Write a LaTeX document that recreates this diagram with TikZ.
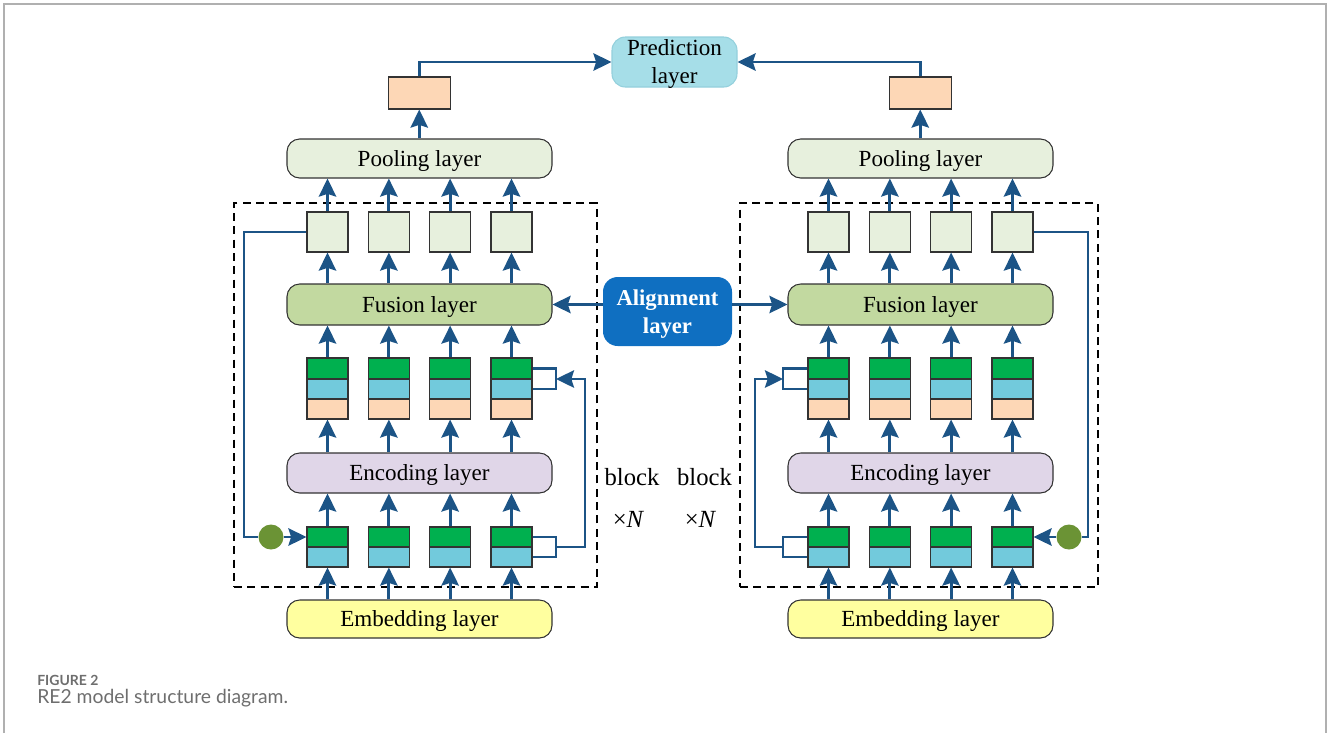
\documentclass[tikz,border=0pt]{standalone}
\usepackage{fontspec}
\setmainfont{Liberation Serif}
\newfontfamily\capfont{Lato}
\usetikzlibrary{arrows.meta,calc}
\definecolor{arrc}{HTML}{1C5486}
\definecolor{poolc}{HTML}{E7F0DD}
\definecolor{fusc}{HTML}{C2D9A0}
\definecolor{encc}{HTML}{E0D6E8}
\definecolor{embc}{HTML}{FFFF9F}
\definecolor{grnc}{HTML}{00B04F}
\definecolor{cync}{HTML}{72CADC}
\definecolor{pchc}{HTML}{FDD7B6}
\definecolor{predc}{HTML}{A6DEE8}
\definecolor{predb}{HTML}{94D0DC}
\definecolor{alic}{HTML}{0F6FC1}
\definecolor{circc}{HTML}{6B9335}
\definecolor{capc}{HTML}{6E6E6E}
\definecolor{framec}{HTML}{B0B0B0}
\definecolor{bordc}{HTML}{333333}
\tikzset{
  lab/.style={font=\fontsize{17.3}{21}\selectfont},
  layerbox/.style={draw=bordc, line width=0.8pt, rounded corners=9.5pt, minimum width=198.75pt, inner sep=0pt, text height=11.4pt, text depth=0pt, lab},
  cell/.style={draw=bordc, line width=0.8pt, minimum width=30.75pt, inner sep=0pt},
  arr/.style={draw=arrc, line width=2.2pt, -{Stealth[length=13.5pt,width=13pt,inset=2pt]}},
  conn/.style={draw=arrc, line width=2.2pt},
  dbox/.style={draw=black, line width=1.4pt, dash pattern=on 6pt off 4pt, inner sep=0pt},
  blk/.style={font=\fontsize{18.5}{22}\selectfont, inner sep=0pt},
}
\begin{document}
\begin{tikzpicture}[x=0.75pt,y=-0.75pt]
\useasboundingbox (0,0) rectangle (1328,733);
% page frame
\draw[framec, line width=1.5pt] (4,733) -- (4,4) -- (1326,4) -- (1326,733);

% dashed block boxes
\node[dbox, minimum width=272.25pt, minimum height=288pt] (dboxL) at (415.5,395) {};
\node[dbox, minimum width=268.5pt, minimum height=288pt] (dboxR) at (919,395) {};

% top prediction & alignment
\node[draw=predb, line width=0.8pt, fill=predc, rounded corners=10pt, minimum width=93.75pt, minimum height=37.5pt, inner sep=0pt,
  label={[yshift=-1.6pt, align=center, lab, inner sep=0pt]center:Prediction\\layer}] (pred) at (674.5,62) {};
\node[fill=alic, rounded corners=11pt, minimum width=96.75pt, minimum height=51.75pt, inner sep=0pt,
  label={[yshift=-2.2pt, align=center, text=white, inner sep=0pt, font=\bfseries\fontsize{17}{21}\selectfont]center:Alignment\\layer}] (align) at (667.5,311.5) {};

\foreach \s/\dx in {L/0,R/501}{
  \node[layerbox, fill=poolc, minimum height=29.25pt] (pool\s) at (419.5+\dx,158.5) {Pooling layer};
  \node[layerbox, fill=fusc, minimum height=30.75pt] (fus\s) at (419.5+\dx,304.5) {Fusion layer};
  \node[layerbox, fill=encc, minimum height=30pt] (enc\s) at (419.5+\dx,473) {Encoding layer};
  \node[layerbox, fill=embc, minimum height=28.5pt] (emb\s) at (419.5+\dx,619) {Embedding layer};
  \node[cell, fill=pchc, minimum width=46.5pt, minimum height=24pt] (org\s) at (419.25+\dx,93) {};
  \draw[arr] (pool\s.north -| org\s) -- (org\s.south);
  \foreach \i in {1,...,4}{
    \pgfmathsetmacro{\xc}{327.5+61.33*(\i-1)+\dx}
    \node[cell, fill=poolc, minimum height=30pt] (sq\s\i) at (\xc,232) {};
    \node[cell, fill=grnc, minimum height=15.75pt] (tA\s\i) at (\xc,368.5) {};
    \node[cell, fill=cync, minimum height=15pt] (tB\s\i) at (\xc,389) {};
    \node[cell, fill=pchc, minimum height=15pt] (tC\s\i) at (\xc,409) {};
    \node[cell, fill=grnc, minimum height=15pt] (bA\s\i) at (\xc,537) {};
    \node[cell, fill=cync, minimum height=15pt] (bB\s\i) at (\xc,557) {};
    \draw[arr] (emb\s.north -| bB\s\i) -- (bB\s\i.south);
    \draw[arr] (bA\s\i.north) -- (enc\s.south -| bA\s\i);
    \draw[arr] (enc\s.north -| tC\s\i) -- (tC\s\i.south);
    \draw[arr] (tA\s\i.north) -- (fus\s.south -| tA\s\i);
    \draw[arr] (fus\s.north -| sq\s\i) -- (sq\s\i.south);
    \draw[arr] (sq\s\i.north) -- (pool\s.south -| sq\s\i);
  }
}

% prediction connectors
\draw[arr] (orgL.north) |- (pred.west);
\draw[arr] (orgR.north) |- (pred.east);

% alignment connectors
\draw[arr] (align.west |- fusL.east) -- (fusL.east);
\draw[arr] (align.east |- fusR.west) -- (fusR.west);

% skip connections with circles
\coordinate (skipL) at (244,537);
\coordinate (skipR) at (1088,537);
\node[circle, fill=circc, minimum size=18.75pt, inner sep=0pt] (circL) at (271,537) {};
\node[circle, fill=circc, minimum size=18.75pt, inner sep=0pt] (circR) at (1069,537) {};
\draw[conn] (sqL1.west) -| (skipL) -- (circL.west);
\draw[conn] (sqR4.east) -| (skipR) -- (circR.east);
\draw[arr] (circL.east) -- (bAL1.west);
\draw[arr] (circR.west) -- (bAR4.east);

% residual brackets
\coordinate (brTL) at (556,379);
\coordinate (brBL) at (556,547);
\coordinate (outL) at (585,379);
\coordinate (brTR) at (783,379);
\coordinate (brBR) at (783,547);
\coordinate (outR) at (755,379);
\draw[conn] (tAL4.east) -| (brTL) |- (tBL4.east);
\draw[conn] (bAL4.east) -| (brBL) |- (bBL4.east);
\draw[arr] (brBL) -| (outL) -- (brTL);
\draw[conn] (tAR1.west) -| (brTR) |- (tBR1.west);
\draw[conn] (bAR1.west) -| (brBR) |- (bBR1.west);
\draw[arr] (brBR) -| (outR) -- (brTR);

% block x N labels
\node[blk] (blkL) at (632,477) {block};
\node[blk] (nL) at (628.5,519) {×\textit{N}};
\node[blk] (blkR) at (704.5,477) {block};
\node[blk] (nR) at (700.5,519) {×\textit{N}};

% caption
\node[anchor=base west, inner sep=0pt, text=capc, font=\capfont\bfseries\fontsize{10.5}{12}\selectfont] (figlab) at (37,685) {FIGURE 2};
\node[anchor=base west, inner sep=0pt, text=capc, font=\capfont\fontsize{14.5}{17}\selectfont] (figcap) at (37,703) {RE2 model structure diagram.};
\end{tikzpicture}
\end{document}
